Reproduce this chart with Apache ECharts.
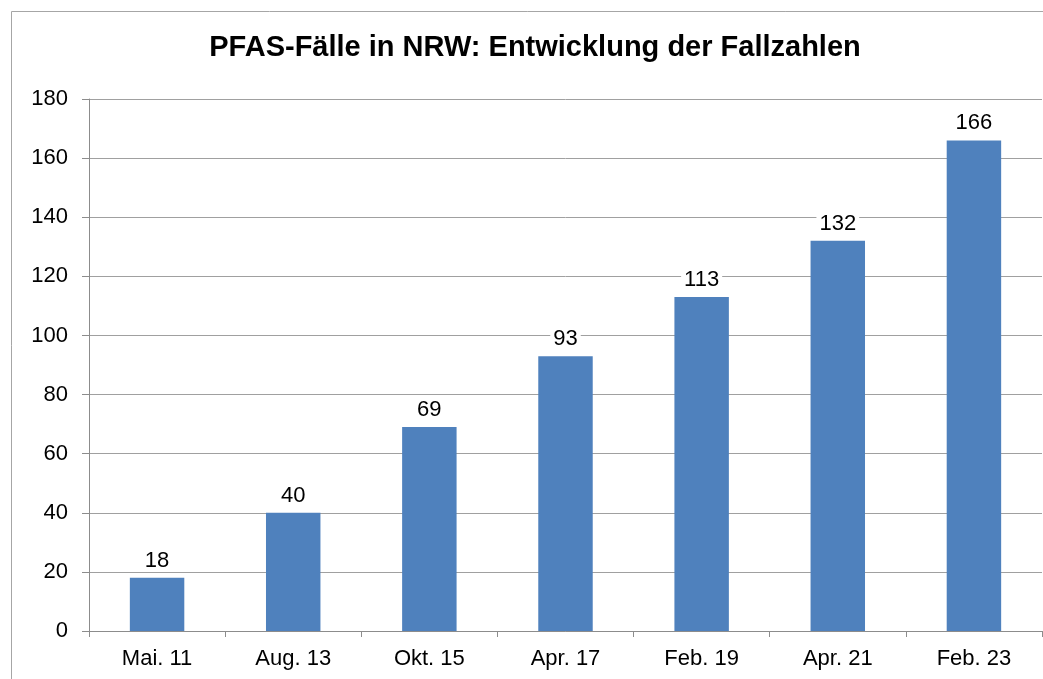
<!DOCTYPE html>
<html>
<head>
<meta charset="utf-8">
<script src="https://cdn.jsdelivr.net/npm/echarts@6/dist/echarts.min.js"></script>
<style>
html,body{margin:0;padding:0;background:#fff;}
#c{width:1043px;height:679px;}
</style>
</head>
<body>
<div id="c"></div>
<script>
const categories = ['Mai. 11','Aug. 13','Okt. 15','Apr. 17','Feb. 19','Apr. 21','Feb. 23'];
const values = [18, 40, 69, 93, 113, 132, 166];
const titleText = 'PFAS-Fälle in NRW: Entwicklung der Fallzahlen';

const chart = echarts.init(document.getElementById('c'));
chart.setOption({
  animation: false,
  backgroundColor: '#fff',
  textStyle: {fontFamily: 'Liberation Sans, Arial, sans-serif'},
  title: {
    text: titleText,
    left: 530, top: 28, textAlign: 'center',
    textStyle: {fontSize: 29, fontWeight: 'bold', color: '#000', fontFamily: 'Liberation Sans, Arial, sans-serif'}
  },
  graphic: [{
    type: 'rect', silent: true,
    shape: {x: 11.5, y: 11.5, width: 1060, height: 700},
    style: {fill: 'none', stroke: '#a6a6a6', lineWidth: 1}
  }],
  grid: {left: 89, right: 1, top: 99, bottom: 48, containLabel: false},
  xAxis: {
    type: 'category', data: categories, boundaryGap: true,
    axisLine: {show: true, lineStyle: {color: '#8c8c8c', width: 1}},
    axisTick: {show: true, length: 6, lineStyle: {color: '#8c8c8c'}},
    axisLabel: {fontSize: 22, color: '#000', margin: 17}
  },
  yAxis: {
    type: 'value', min: 0, max: 180, interval: 20,
    axisLine: {show: true, lineStyle: {color: '#8c8c8c', width: 1}},
    axisTick: {show: true, length: 7, lineStyle: {color: '#8c8c8c'}},
    axisLabel: {fontSize: 22, color: '#000', margin: 21},
    splitLine: {show: true, lineStyle: {color: '#a0a0a0', width: 1}}
  },
  series: [{
    type: 'bar', data: values, barWidth: '40%',
    itemStyle: {color: '#4f81bd'},
    label: {show: true, position: 'top', distance: 6, fontSize: 22, color: '#000',
            backgroundColor: '#fff', padding: [0, 3]}
  }]
});
</script>
</body>
</html>
